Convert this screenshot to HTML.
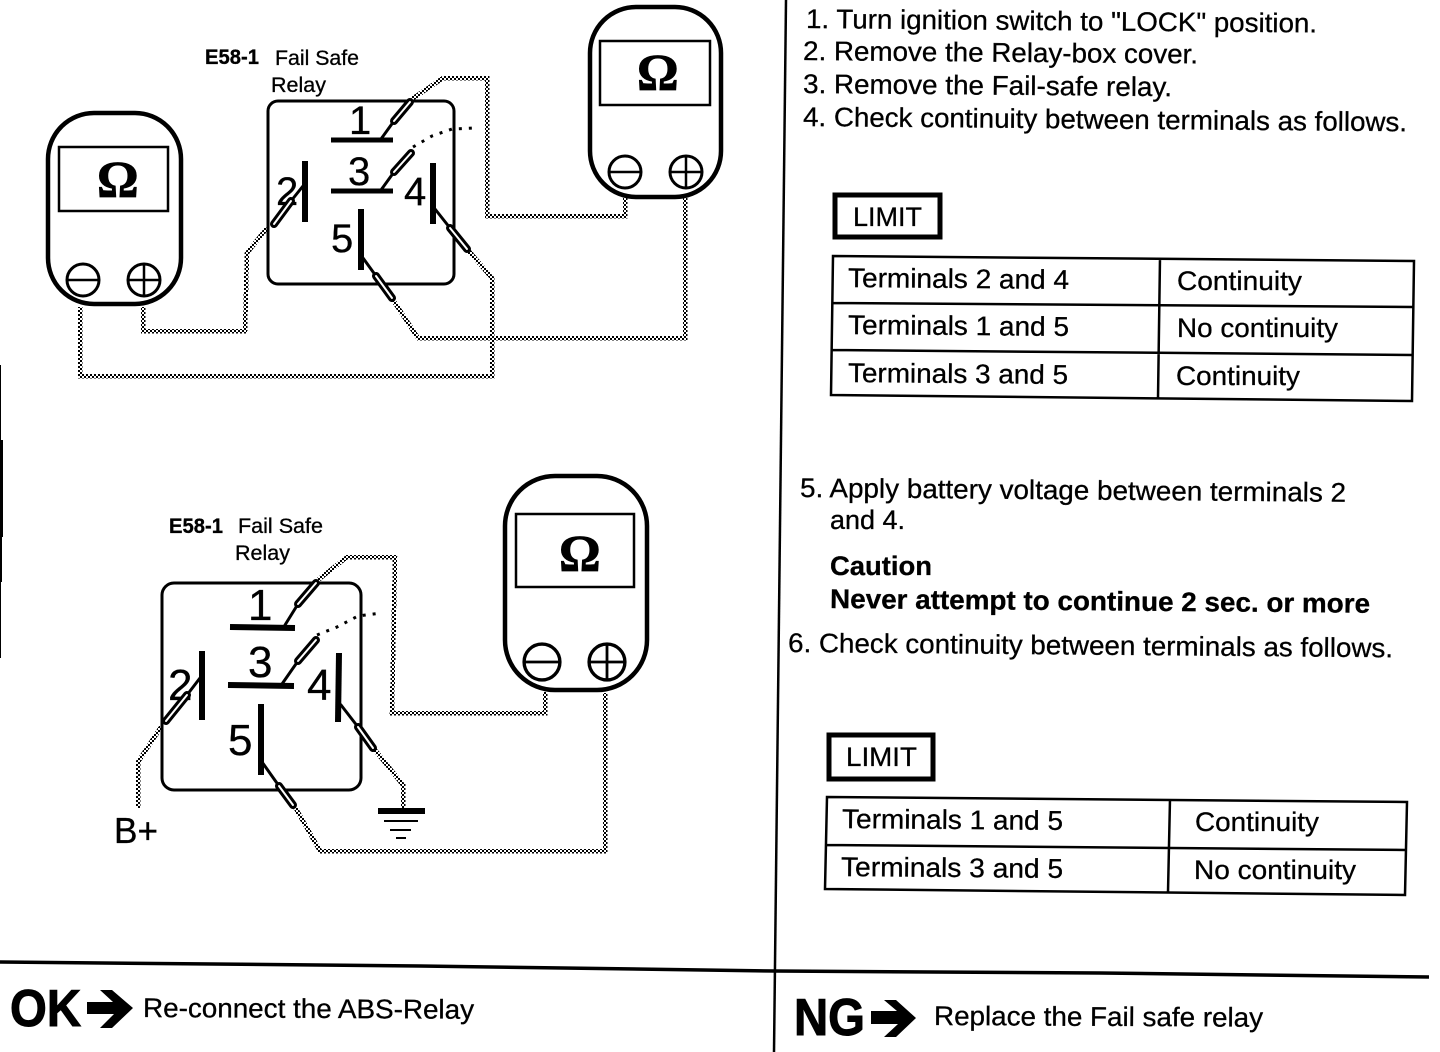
<!DOCTYPE html>
<html lang="en">
<head>
<meta charset="utf-8">
<title>Fail Safe Relay check</title>
<style>
html,body{margin:0;padding:0;background:#fff;}
svg{display:block;}
text{font-family:"Liberation Sans",Arial,sans-serif;fill:#000;stroke:#000;stroke-width:.3px;}
.b{font-weight:bold;}
.t{font-size:27px;}
.s{font-size:21px;}
.n{font-size:40px;}
.o{font-family:"Liberation Serif",serif;font-weight:bold;font-size:52px;stroke-width:.8px;}
.big{font-size:52px;stroke-width:1px;}
.w{fill:none;stroke:url(#d);stroke-width:4.5;stroke-linejoin:miter;shape-rendering:crispEdges;}
.k{fill:none;stroke:#000;}
.dot{fill:none;stroke:#000;stroke-width:3;stroke-dasharray:3 7;}
</style>
</head>
<body>
<svg width="1440" height="1052" viewBox="0 0 1440 1052" xmlns="http://www.w3.org/2000/svg">
<defs>
<pattern id="d" width="4" height="4" patternUnits="userSpaceOnUse">
<rect width="4" height="4" fill="#fff"/>
<rect width="2" height="2" fill="#000"/>
<rect x="2" y="2" width="2" height="2" fill="#000"/>
</pattern>
<g id="neg"><circle r="16" class="k" stroke-width="3"/><line x1="-16" x2="16" class="k" stroke-width="2.5"/></g>
<g id="pos"><circle r="16" class="k" stroke-width="3"/><line x1="-16" x2="16" class="k" stroke-width="2.5"/><line y1="-16" y2="16" class="k" stroke-width="2.5"/></g>
</defs>
<rect width="1440" height="1052" fill="#fff"/>

<!-- page edge + dividers -->
<rect x="0" y="365" width="1" height="75" fill="#000"/>
<rect x="0" y="440" width="3" height="97" fill="#000"/>
<rect x="0" y="537" width="2" height="45" fill="#000"/>
<rect x="0" y="582" width="1" height="76" fill="#000"/>
<line x1="786" y1="0" x2="774" y2="1052" class="k" stroke-width="2.5"/>
<path d="M0 962 L420 966 L775 971 L1100 973 L1429 977" class="k" stroke-width="3.5"/>

<!-- wires top -->
<path class="w" d="M412 99 L443 78 H487 V216 H625 V198"/>
<path class="w" d="M267 228 L247 253 L245 331 H143 V307"/>
<path class="w" d="M468 250 L492 278 V376 H80 V307"/>
<path class="w" d="M393 300 L418 338 H685 V198"/>
<path class="dot" d="M413 147 L432 136 L452 129 L475 128"/>

<!-- meter left -->
<rect x="48" y="113" width="133" height="191" rx="46" ry="46" class="k" stroke-width="4.5" fill="#fff"/>
<rect x="59" y="147" width="109" height="64" class="k" stroke-width="2.5"/>
<text class="o" x="97" y="197">Ω</text>
<use href="#neg" x="83" y="280"/>
<use href="#pos" x="144" y="280"/>

<!-- meter top right -->
<rect x="590" y="7" width="131" height="190" rx="46" ry="46" class="k" stroke-width="4.5" fill="#fff"/>
<rect x="600" y="41" width="110" height="64" class="k" stroke-width="2.5"/>
<text class="o" x="637" y="90">Ω</text>
<use href="#neg" x="625" y="172"/>
<use href="#pos" x="686" y="172"/>

<!-- relay top -->
<text class="s b" x="205" y="64" textLength="54" lengthAdjust="spacingAndGlyphs">E58-1</text>
<text class="s" x="275" y="65" textLength="84" lengthAdjust="spacingAndGlyphs">Fail Safe</text>
<text class="s" x="271" y="92" textLength="55" lengthAdjust="spacingAndGlyphs">Relay</text>
<rect x="268" y="101" width="186" height="183" rx="10" class="k" stroke-width="3"/>
<line x1="331" y1="140" x2="393" y2="140" class="k" stroke-width="5"/>
<line x1="331" y1="191" x2="393" y2="191" class="k" stroke-width="5"/>
<line x1="305" y1="161" x2="305" y2="222" class="k" stroke-width="6"/>
<line x1="433" y1="163" x2="433" y2="224" class="k" stroke-width="6"/>
<line x1="361" y1="209" x2="361" y2="270" class="k" stroke-width="6"/>
<text class="n" x="349" y="134">1</text>
<text class="n" x="348" y="185">3</text>
<text class="n" x="276" y="205">2</text>
<text class="n" x="404" y="205">4</text>
<text class="n" x="331" y="252">5</text>
<g class="k" stroke-linecap="round">
<line x1="381" y1="139" x2="394" y2="121" stroke-width="3"/>
<line x1="394" y1="121" x2="410" y2="102" stroke-width="8"/>
<line x1="394" y1="121" x2="410" y2="102" stroke="#fff" stroke-width="2"/>
<line x1="381" y1="190" x2="394" y2="172" stroke-width="3"/>
<line x1="394" y1="172" x2="411" y2="153" stroke-width="8"/>
<line x1="394" y1="172" x2="411" y2="153" stroke="#fff" stroke-width="2"/>
<line x1="303" y1="186" x2="291" y2="201" stroke-width="3"/>
<line x1="291" y1="201" x2="274" y2="224" stroke-width="8"/>
<line x1="291" y1="201" x2="274" y2="224" stroke="#fff" stroke-width="2"/>
<line x1="435" y1="209" x2="450" y2="228" stroke-width="3"/>
<line x1="450" y1="228" x2="467" y2="249" stroke-width="8"/>
<line x1="450" y1="228" x2="467" y2="249" stroke="#fff" stroke-width="2"/>
<line x1="363" y1="258" x2="376" y2="276" stroke-width="3"/>
<line x1="376" y1="276" x2="392" y2="298" stroke-width="8"/>
<line x1="376" y1="276" x2="392" y2="298" stroke="#fff" stroke-width="2"/>
</g>

<!-- wires bottom -->
<path class="w" d="M318 580 L347 557 H395 L392 713 H545 V692"/>
<path class="w" d="M161 727 L138 762 V808"/>
<path class="w" d="M375 750 L403 785 V808"/>
<path class="w" d="M295 807 L320 851 H605 V693"/>
<path class="dot" d="M317 635 L337 627 L358 616 L382 613"/>

<!-- meter bottom -->
<rect x="505" y="476" width="142" height="214" rx="50" ry="50" class="k" stroke-width="4.5" fill="#fff"/>
<rect x="516" y="514" width="118" height="73" class="k" stroke-width="2.5"/>
<text class="o" x="559" y="571">Ω</text>
<g transform="translate(542 662) scale(1.12)"><use href="#neg"/></g>
<g transform="translate(607 662) scale(1.12)"><use href="#pos"/></g>

<!-- relay bottom -->
<text class="s b" x="169" y="533" textLength="54" lengthAdjust="spacingAndGlyphs">E58-1</text>
<text class="s" x="238" y="533" textLength="85" lengthAdjust="spacingAndGlyphs">Fail Safe</text>
<text class="s" x="235" y="560" textLength="55" lengthAdjust="spacingAndGlyphs">Relay</text>
<rect x="162" y="583" width="199" height="207" rx="12" class="k" stroke-width="3"/>
<line x1="230" y1="627" x2="295" y2="628" class="k" stroke-width="6"/>
<line x1="228" y1="685" x2="294" y2="686" class="k" stroke-width="6"/>
<line x1="202" y1="651" x2="202" y2="720" class="k" stroke-width="6"/>
<line x1="339" y1="653" x2="338" y2="722" class="k" stroke-width="6"/>
<line x1="261" y1="704" x2="261" y2="775" class="k" stroke-width="6"/>
<text class="n" style="font-size:44px" x="248" y="620">1</text>
<text class="n" style="font-size:44px" x="248" y="677">3</text>
<text class="n" style="font-size:44px" x="168" y="700">2</text>
<text class="n" style="font-size:44px" x="307" y="700">4</text>
<text class="n" style="font-size:44px" x="228" y="755">5</text>
<g class="k" stroke-linecap="round">
<line x1="285" y1="625" x2="298" y2="604" stroke-width="3"/>
<line x1="298" y1="604" x2="316" y2="583" stroke-width="8"/>
<line x1="298" y1="604" x2="316" y2="583" stroke="#fff" stroke-width="2"/>
<line x1="282" y1="684" x2="298" y2="661" stroke-width="3"/>
<line x1="298" y1="661" x2="316" y2="640" stroke-width="8"/>
<line x1="298" y1="661" x2="316" y2="640" stroke="#fff" stroke-width="2"/>
<line x1="200" y1="678" x2="187" y2="695" stroke-width="3"/>
<line x1="187" y1="695" x2="166" y2="721" stroke-width="8"/>
<line x1="187" y1="695" x2="166" y2="721" stroke="#fff" stroke-width="2"/>
<line x1="341" y1="705" x2="358" y2="727" stroke-width="3"/>
<line x1="358" y1="727" x2="373" y2="748" stroke-width="8"/>
<line x1="358" y1="727" x2="373" y2="748" stroke="#fff" stroke-width="2"/>
<line x1="262" y1="762" x2="279" y2="786" stroke-width="3"/>
<line x1="279" y1="786" x2="293" y2="805" stroke-width="8"/>
<line x1="279" y1="786" x2="293" y2="805" stroke="#fff" stroke-width="2"/>
</g>
<text x="114" y="843" style="font-size:36px" textLength="44" lengthAdjust="spacingAndGlyphs">B+</text>
<line x1="378" y1="811" x2="425" y2="811" class="k" stroke-width="6"/>
<line x1="384" y1="821" x2="418" y2="821" class="k" stroke-width="2"/>
<line x1="390" y1="830" x2="411" y2="830" class="k" stroke-width="2"/>
<line x1="396" y1="838" x2="406" y2="838" class="k" stroke-width="2"/>

<!-- right column -->
<text class="t" x="806" y="28" transform="rotate(.5 806 28)" textLength="511" lengthAdjust="spacingAndGlyphs">1. Turn ignition switch to "LOCK" position.</text>
<text class="t" x="803" y="60" transform="rotate(.5 803 60)" textLength="395" lengthAdjust="spacingAndGlyphs">2. Remove the Relay-box cover.</text>
<text class="t" x="803" y="93" transform="rotate(.5 803 93)" textLength="369" lengthAdjust="spacingAndGlyphs">3. Remove the Fail-safe relay.</text>
<text class="t" x="803" y="126" transform="rotate(.5 803 126)" textLength="604" lengthAdjust="spacingAndGlyphs">4. Check continuity between terminals as follows.</text>

<rect x="835" y="195" width="105" height="42" class="k" stroke-width="5"/>
<text class="t" x="853" y="226" textLength="69" lengthAdjust="spacingAndGlyphs">LIMIT</text>
<path d="M833 256 L1414 261 L1412 401 L831 395 Z M832 303 L1413 307 M832 350 L1413 355 M1160 258 L1158 398" class="k" stroke-width="2.5"/>
<text class="t" x="848" y="287" transform="rotate(.5 848 287)" textLength="221" lengthAdjust="spacingAndGlyphs">Terminals 2 and 4</text>
<text class="t" x="1177" y="290" textLength="125" lengthAdjust="spacingAndGlyphs">Continuity</text>
<text class="t" x="848" y="334" transform="rotate(.5 848 334)" textLength="221" lengthAdjust="spacingAndGlyphs">Terminals 1 and 5</text>
<text class="t" x="1177" y="337" textLength="161" lengthAdjust="spacingAndGlyphs">No continuity</text>
<text class="t" x="848" y="382" transform="rotate(.5 848 382)" textLength="220" lengthAdjust="spacingAndGlyphs">Terminals 3 and 5</text>
<text class="t" x="1176" y="385" textLength="124" lengthAdjust="spacingAndGlyphs">Continuity</text>

<text class="t" x="800" y="497" transform="rotate(.5 800 497)" textLength="546" lengthAdjust="spacingAndGlyphs">5. Apply battery voltage between terminals 2</text>
<text class="t" x="830" y="529" textLength="75" lengthAdjust="spacingAndGlyphs">and 4.</text>
<text class="t b" x="830" y="575" textLength="102" lengthAdjust="spacingAndGlyphs">Caution</text>
<text class="t b" x="830" y="608" transform="rotate(.5 830 608)" textLength="540" lengthAdjust="spacingAndGlyphs">Never attempt to continue 2 sec. or more</text>
<text class="t" x="788" y="652" transform="rotate(.5 788 652)" textLength="605" lengthAdjust="spacingAndGlyphs">6. Check continuity between terminals as follows.</text>

<rect x="829" y="735" width="104" height="44" class="k" stroke-width="5"/>
<text class="t" x="846" y="766" textLength="71" lengthAdjust="spacingAndGlyphs">LIMIT</text>
<path d="M827 797 L1407 802 L1405 895 L825 889 Z M826 845 L1406 850 M1170 799 L1168 892" class="k" stroke-width="2.5"/>
<text class="t" x="842" y="828" transform="rotate(.5 842 828)" textLength="221" lengthAdjust="spacingAndGlyphs">Terminals 1 and 5</text>
<text class="t" x="1195" y="831" textLength="124" lengthAdjust="spacingAndGlyphs">Continuity</text>
<text class="t" x="841" y="876" transform="rotate(.5 841 876)" textLength="222" lengthAdjust="spacingAndGlyphs">Terminals 3 and 5</text>
<text class="t" x="1194" y="879" textLength="162" lengthAdjust="spacingAndGlyphs">No continuity</text>

<!-- bottom -->
<text class="b big" x="10" y="1026" textLength="71" lengthAdjust="spacingAndGlyphs">OK</text>
<path d="M87 1002 H113 L100 990 H112 L133 1008 L112 1028 H100 L114 1014 H87 Z" fill="#000"/>
<text class="t" x="143" y="1017" transform="rotate(.3 143 1017)" textLength="331" lengthAdjust="spacingAndGlyphs">Re-connect the ABS-Relay</text>
<text class="b big" x="794" y="1035" textLength="71" lengthAdjust="spacingAndGlyphs">NG</text>
<path d="M871 1011 H897 L884 1000 H896 L916 1018 L896 1037 H884 L898 1024 H871 Z" fill="#000"/>
<text class="t" x="934" y="1025" transform="rotate(.3 934 1025)" textLength="329" lengthAdjust="spacingAndGlyphs">Replace the Fail safe relay</text>
</svg>
</body>
</html>
